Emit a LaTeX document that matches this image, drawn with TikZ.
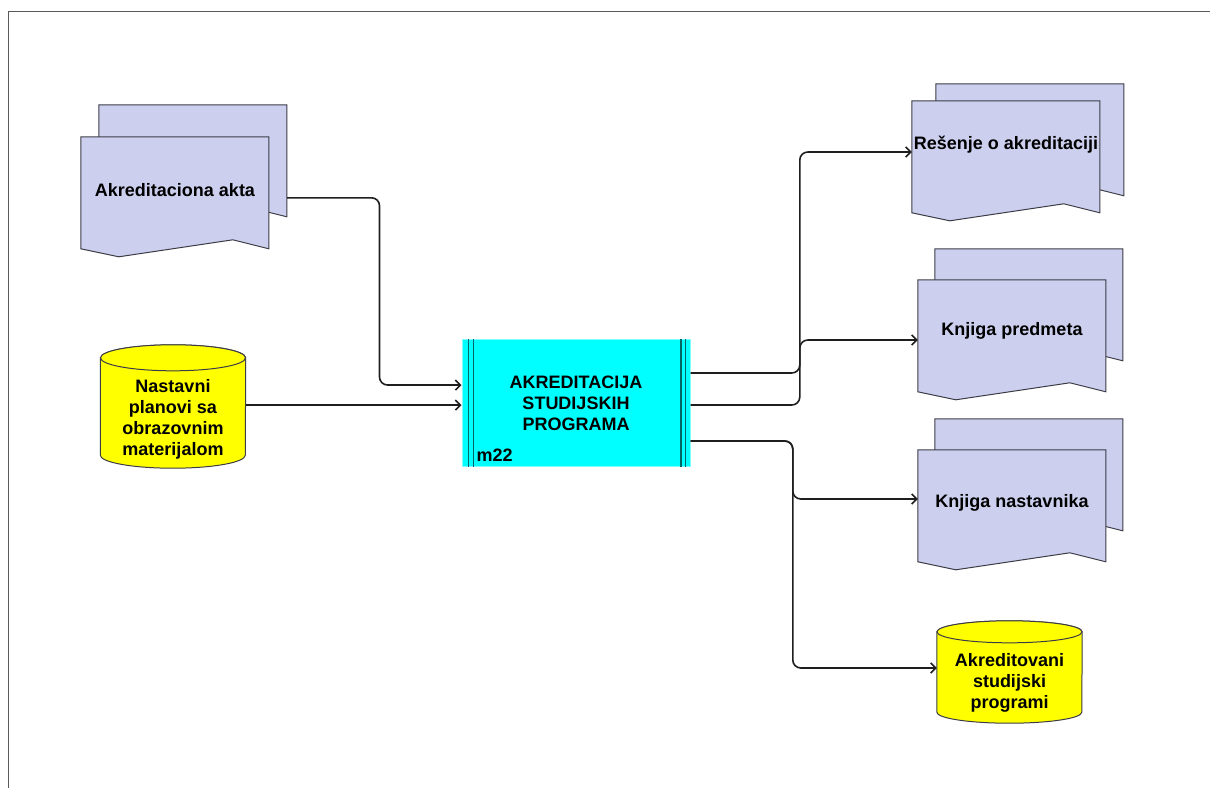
\documentclass[tikz,border=0pt]{standalone}
\usepackage{fontspec}
\setmainfont{Liberation Sans}
\usetikzlibrary{arrows.meta,calc,backgrounds}
\definecolor{ink}{HTML}{1E1E1E}
\definecolor{edge}{HTML}{3C3C46}
\definecolor{rimgray}{HTML}{5A5A5A}
\definecolor{sheetfill}{HTML}{CCD0EE}
\definecolor{drumfill}{HTML}{FFFF00}
\definecolor{procfill}{HTML}{00FFFF}
\definecolor{procrim}{HTML}{7FFFFF}
\definecolor{procbar}{HTML}{006666}
\tikzset{
  >={Straight Barb[length=5pt,width=10pt]}, font=\fontsize{18}{21}\selectfont\bfseries,
  sheet/.style={draw=edge, fill=sheetfill, line width=1pt},
  docbox/.style={inner sep=0pt, minimum width=188pt, minimum height=112pt},
  drumbox/.style={inner sep=0pt, minimum width=145pt, align=center},
  drum/.style={draw=edge, fill=drumfill, line width=1pt},
  procbox/.style={draw=procrim, fill=procfill, line width=1pt, minimum width=228pt, minimum height=127pt, inner sep=0pt, align=center},
  bar/.style={draw=procbar, line width=1.2pt},
  lab/.style={inner sep=0pt, align=center, text=black},
  flow/.style={->, draw=ink, line width=1.6pt, rounded corners=8pt},
  rim/.style={draw=rimgray, line width=1pt},
}
% front sheet (named node) plus the sheet lying behind it
\newcommand{\docsheet}[3]{%
  \begin{scope}[on background layer]
    \foreach \sx/\sy in {#2/#3, 0/0}
      \draw[sheet] ($(#1.north west)+(\sx,\sy)$) -- ++(188,0) -- ++(0,112)
        -- ++(-36,-9) -- ++(-114,17) -- ++(-38,-8) -- cycle;
  \end{scope}}
% drum around a named body, #2 = half height of the caps
\newcommand{\drumshape}[2]{%
  \begin{scope}[on background layer]
    \draw[drum] ($(#1.north west)+(0,-#2)$) -- ($(#1.south west)+(0,-#2)$)
      arc[start angle=180, end angle=0, x radius=72.5, y radius=#2]
      -- ($(#1.north east)+(0,-#2)$)
      arc[start angle=0, end angle=-180, x radius=72.5, y radius=#2] -- cycle;
    \draw[drum] ($(#1.north)+(0,-#2)$) ellipse[x radius=72.5, y radius=#2];
  \end{scope}}

\begin{document}
\begin{tikzpicture}[x=1pt, y=-1pt]
  \useasboundingbox (0,0) rectangle (1210,788);
  \draw[rim] (8,788) -- (8,11) -- (1210,11);

  % process
  \node[procbox] (proc) at (576,403) {AKREDITACIJA\\STUDIJSKIH\\PROGRAMA};
  \foreach \bx in {7,12}
    \draw[bar] ($(proc.north west)+(\bx,0)$) -- ($(proc.south west)+(\bx,0)$);
  \foreach \bx in {-5,-9.5}
    \draw[bar] ($(proc.north east)+(\bx,0)$) -- ($(proc.south east)+(\bx,0)$);
  \node[lab, anchor=west] (procid) at ($(proc.south west)+(15,-12)$) {m22};

  % documents
  \node[docbox] (akta) at (175,193) {};
  \node[docbox] (resenje) at (1006,157) {};
  \node[docbox] (predmet) at (1012,336) {};
  \node[docbox] (nastav) at (1012,506) {};
  \docsheet{akta}{18}{-32}
  \docsheet{resenje}{24}{-17}
  \docsheet{predmet}{17}{-31}
  \docsheet{nastav}{17}{-31}
  \node[lab] (aktalab) at ($(akta)+(0,-3)$) {Akreditaciona akta};
  \node[lab] (resenjelab) at ($(resenje)+(0,-12)$) {Rešenje o akreditaciji};
  \node[lab] (predmetlab) at ($(predmet)+(0,-5)$) {Knjiga predmeta};
  \node[lab] (nastavlab) at ($(nastav)+(0,-3)$) {Knjiga nastavnika};

  % data stores
  \node[drumbox, minimum height=97pt] (plan) at (173,419.5) {Nastavni\\planovi sa\\obrazovnim\\materijalom};
  \node[drumbox, minimum height=80pt] (akred) at (1009.5,683) {Akreditovani\\studijski\\programi};
  \drumshape{plan}{13}
  \drumshape{akred}{11}

  % ports on the process box
  \coordinate (in1) at ($(proc.west)+(0,-18)$);
  \coordinate (in2) at ($(proc.west)+(0,2)$);
  \coordinate (out1) at ($(proc.east)+(0,-30)$);
  \coordinate (out2) at ($(proc.east)+(0,2)$);
  \coordinate (out3) at ($(proc.east)+(0,38)$);

  \draw[flow] ($(akta.north east)+(18,61)$) -| ($(in1)+(-82,0)$) -- (in1);
  \draw[flow] (plan.east |- in2) -- (in2);
  \draw[flow] (out1) -| ($(resenje.west)+(-112,-5)$) -- ($(resenje.west)+(0,-5)$);
  \draw[flow] (out2) -| ($(predmet.west)+(-118,4)$) -- ($(predmet.west)+(0,4)$);
  \draw[flow] (out3) -| ($(nastav.west)+(-125,-7)$) -- ($(nastav.west)+(0,-7)$);
  \draw[flow] (out3) -| ($(akred.west)+(-144,-15)$) -- ($(akred.west)+(0,-15)$);
\end{tikzpicture}
\end{document}
